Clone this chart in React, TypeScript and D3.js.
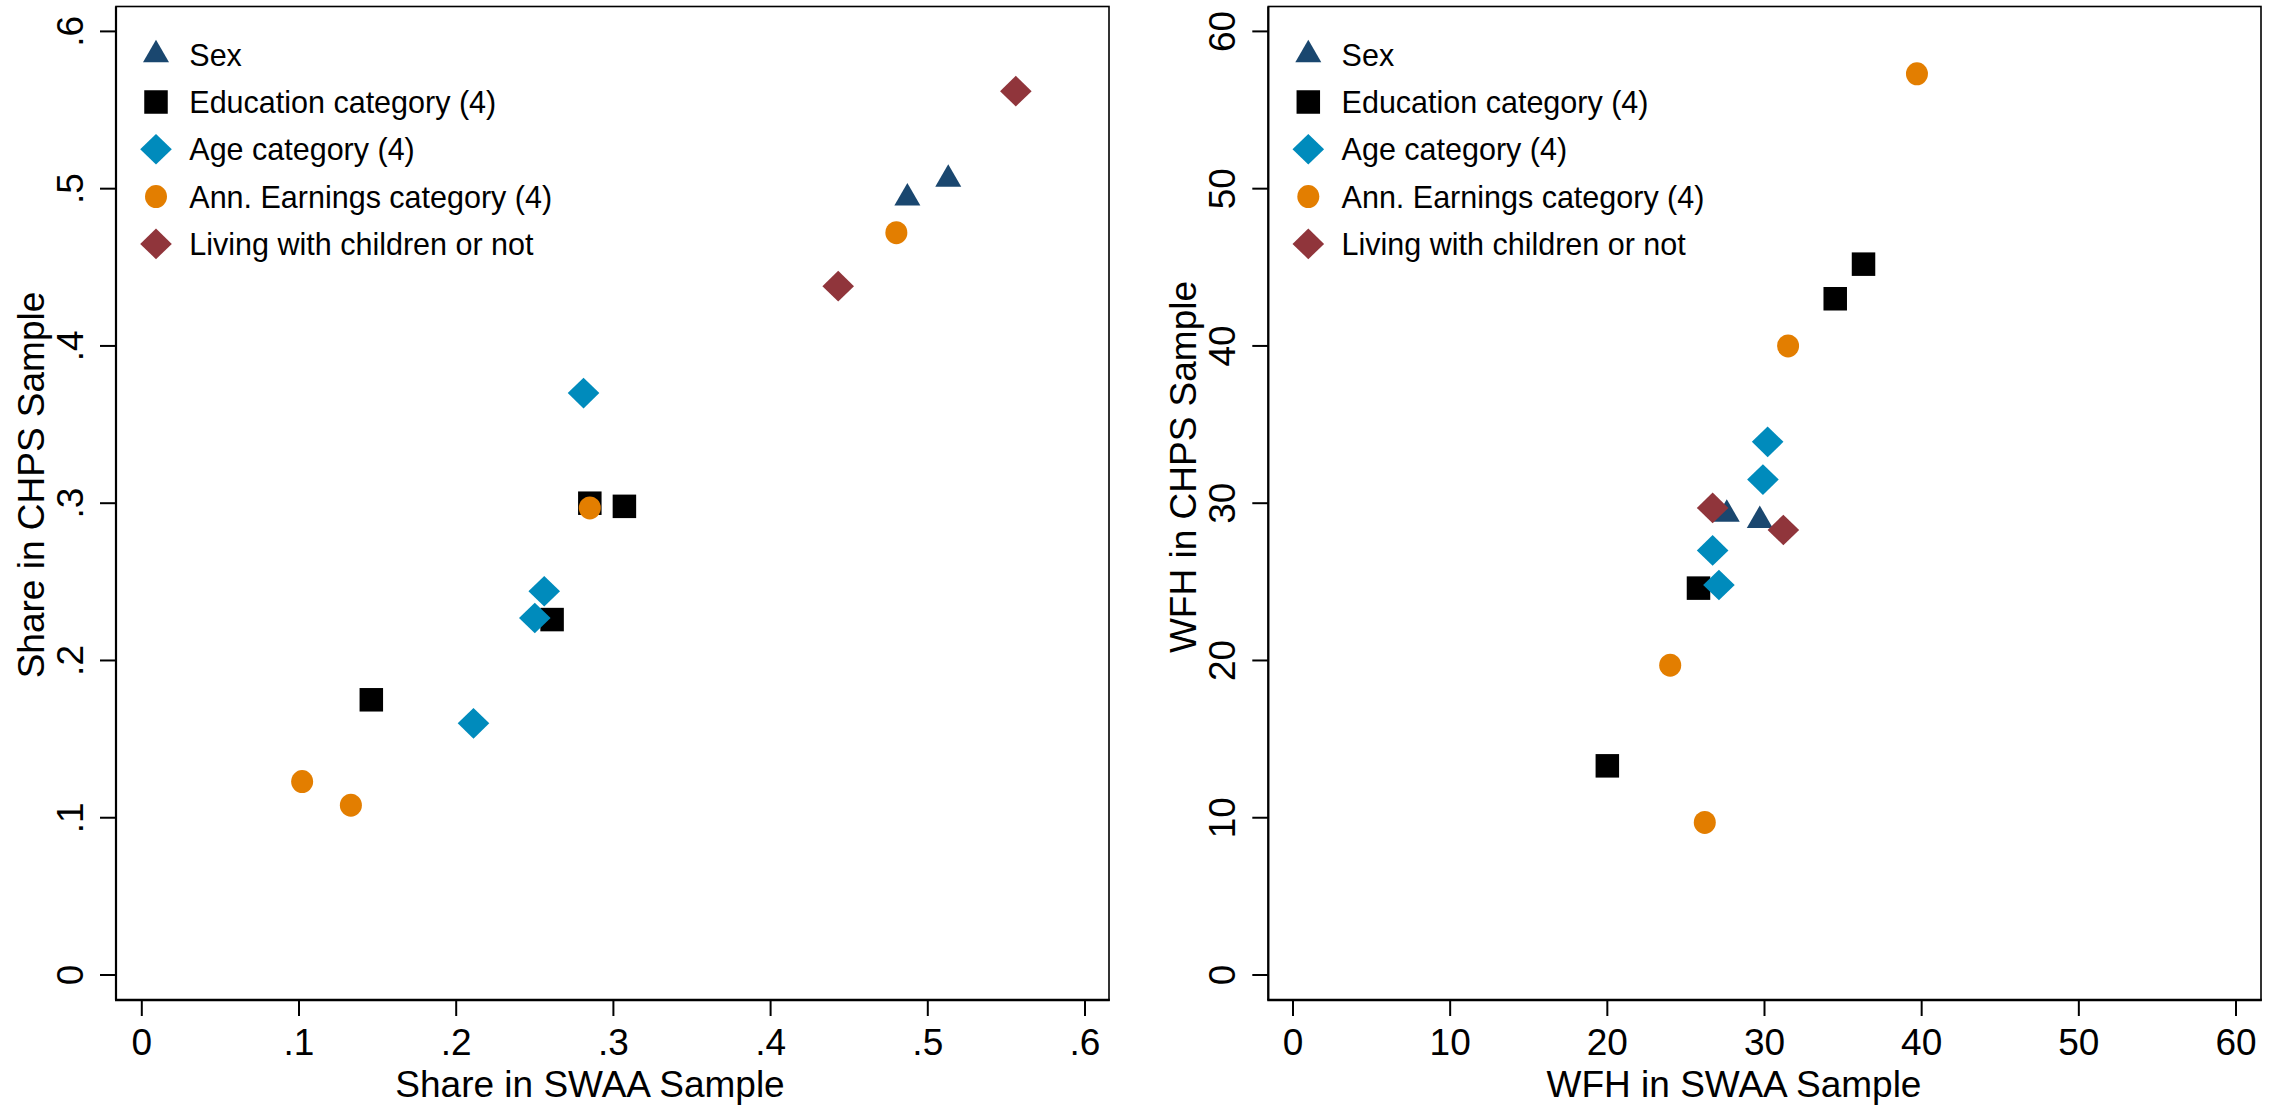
import React from "react";
import * as d3 from "d3";

// Series shared by both panels
const seriesNames = [
  "Sex",
  "Education category (4)",
  "Age category (4)",
  "Ann. Earnings category (4)",
  "Living with children or not",
];
const seriesColors = ["#1a476f", "#000000", "#008bbc", "#e37e00", "#90353b"];
const seriesShapes = ["triangle", "square", "diamond", "circle", "diamond"];

// Left panel: population shares
const sexShareSWAA = [0.487, 0.513];
const sexShareCHPS = [0.494, 0.506];
const eduShareSWAA = [0.146, 0.261, 0.285, 0.307];
const eduShareCHPS = [0.175, 0.226, 0.3, 0.298];
const ageShareSWAA = [0.211, 0.25, 0.256, 0.281];
const ageShareCHPS = [0.16, 0.227, 0.244, 0.37];
const earnShareSWAA = [0.102, 0.133, 0.285, 0.48];
const earnShareCHPS = [0.123, 0.108, 0.297, 0.472];
const kidsShareSWAA = [0.443, 0.556];
const kidsShareCHPS = [0.438, 0.562];

// Right panel: WFH rates
const sexWfhSWAA = [27.6, 29.7];
const sexWfhCHPS = [29.3, 28.9];
const eduWfhSWAA = [20.0, 25.8, 34.5, 36.3];
const eduWfhCHPS = [13.3, 24.6, 43.0, 45.2];
const ageWfhSWAA = [26.7, 27.1, 29.9, 30.2];
const ageWfhCHPS = [27.0, 24.8, 31.5, 33.9];
const earnWfhSWAA = [24.0, 26.2, 31.5, 39.7];
const earnWfhCHPS = [19.7, 9.7, 40.0, 57.3];
const kidsWfhSWAA = [26.7, 31.2];
const kidsWfhCHPS = [29.7, 28.3];

// Axis ticks
const shareTicks = [0, 0.1, 0.2, 0.3, 0.4, 0.5, 0.6];
const shareTickLabels = ["0", ".1", ".2", ".3", ".4", ".5", ".6"];
const wfhTicks = [0, 10, 20, 30, 40, 50, 60];
const wfhTickLabels = ["0", "10", "20", "30", "40", "50", "60"];

const FONT = "'Liberation Sans', Arial, Helvetica, sans-serif";

function Marker({ shape, x, y, color }: { shape: string; x: number; y: number; color: string }) {
  if (shape === "triangle") {
    const s = 13, h = 22.5;
    return (
      <path
        d={`M${x},${y - (2 * h) / 3}L${x - s},${y + h / 3}L${x + s},${y + h / 3}Z`}
        fill={color}
      />
    );
  }
  if (shape === "square") {
    const a = 11.75;
    return <rect x={x - a} y={y - a} width={2 * a} height={2 * a} fill={color} />;
  }
  if (shape === "diamond") {
    const w = 15.8, h = 15.3;
    return <path d={`M${x},${y - h}L${x + w},${y}L${x},${y + h}L${x - w},${y}Z`} fill={color} />;
  }
  return <ellipse cx={x} cy={y} rx={11} ry={11.5} fill={color} />;
}

type PanelProps = {
  frame: { x0: number; x1: number; y0: number; y1: number };
  x: d3.ScaleLinear<number, number>;
  y: d3.ScaleLinear<number, number>;
  ticks: number[];
  tickLabels: string[];
  xTitle: string;
  yTitle: string;
  xTitleCenter: number;
  yTitleCenter: number;
  series: { xs: number[]; ys: number[] }[];
};

function Panel(p: PanelProps) {
  const { frame, x, y } = p;
  const axisW = 2.2;
  return (
    <g fontFamily={FONT}>
      {/* plot region outline */}
      <rect
        x={frame.x0}
        y={frame.y0}
        width={frame.x1 - frame.x0}
        height={frame.y1 - frame.y0}
        fill="none"
        stroke="#000"
        strokeWidth={1.6}
      />
      <line x1={frame.x0} x2={frame.x0} y1={frame.y0} y2={frame.y1} stroke="#000" strokeWidth={axisW} />
      <line x1={frame.x0 - 1} x2={frame.x1 + 0.8} y1={frame.y1} y2={frame.y1} stroke="#000" strokeWidth={axisW + 0.4} />

      {/* y axis ticks and rotated labels */}
      {p.ticks.map((t, i) => (
        <g key={"y" + i}>
          <line x1={frame.x0 - 16} x2={frame.x0} y1={y(t)} y2={y(t)} stroke="#000" strokeWidth={2} />
          <text
            transform={`translate(${frame.x0 - 33},${y(t)}) rotate(-90)`}
            textAnchor="middle"
            fontSize={37}
          >
            {p.tickLabels[i]}
          </text>
        </g>
      ))}

      {/* x axis ticks and labels */}
      {p.ticks.map((t, i) => (
        <g key={"x" + i}>
          <line x1={x(t)} x2={x(t)} y1={frame.y1} y2={frame.y1 + 16} stroke="#000" strokeWidth={2} />
          <text x={x(t)} y={frame.y1 + 55} textAnchor="middle" fontSize={37}>
            {p.tickLabels[i]}
          </text>
        </g>
      ))}

      {/* axis titles */}
      <text x={p.xTitleCenter} y={frame.y1 + 97} textAnchor="middle" fontSize={37}>
        {p.xTitle}
      </text>
      <text
        transform={`translate(${frame.x0 - 72.5},${p.yTitleCenter}) rotate(-90)`}
        textAnchor="middle"
        fontSize={37}
      >
        {p.yTitle}
      </text>

      {/* points, drawn series by series */}
      {p.series.map((s, si) =>
        s.xs.map((v, j) => (
          <Marker
            key={si + "-" + j}
            shape={seriesShapes[si]}
            x={x(v)}
            y={y(s.ys[j])}
            color={seriesColors[si]}
          />
        ))
      )}

      {/* legend */}
      {seriesNames.map((name, i) => {
        const base = 65.7 + i * 47.3;
        return (
          <g key={"lg" + i}>
            <Marker shape={seriesShapes[i]} x={frame.x0 + 40} y={base - 11} color={seriesColors[i]} />
            <text x={frame.x0 + 73.3} y={base} fontSize={30.5}>
              {name}
            </text>
          </g>
        );
      })}
    </g>
  );
}

export default function App() {
  const leftFrame = { x0: 116, x1: 1109, y0: 6.5, y1: 1000 };
  const rightFrame = { x0: 1268.3, x1: 2261, y0: 6.5, y1: 1000 };

  const xShare = d3.scaleLinear().domain([0, 0.6]).range([141.8, 1085]);
  const yShare = d3.scaleLinear().domain([0, 0.6]).range([975, 31.4]);
  const xWfh = d3.scaleLinear().domain([0, 60]).range([1293, 2236]);
  const yWfh = d3.scaleLinear().domain([0, 60]).range([975, 31.4]);

  const shareSeries = [
    { xs: sexShareSWAA, ys: sexShareCHPS },
    { xs: eduShareSWAA, ys: eduShareCHPS },
    { xs: ageShareSWAA, ys: ageShareCHPS },
    { xs: earnShareSWAA, ys: earnShareCHPS },
    { xs: kidsShareSWAA, ys: kidsShareCHPS },
  ];
  const wfhSeries = [
    { xs: sexWfhSWAA, ys: sexWfhCHPS },
    { xs: eduWfhSWAA, ys: eduWfhCHPS },
    { xs: ageWfhSWAA, ys: ageWfhCHPS },
    { xs: earnWfhSWAA, ys: earnWfhCHPS },
    { xs: kidsWfhSWAA, ys: kidsWfhCHPS },
  ];

  return (
    <svg
      width={2278}
      height={1107}
      style={{ position: "absolute", left: 0, top: 0, background: "#fff" }}
    >
      <rect width={2278} height={1107} fill="#fff" />
      <Panel
        frame={leftFrame}
        x={xShare}
        y={yShare}
        ticks={shareTicks}
        tickLabels={shareTickLabels}
        xTitle="Share in SWAA Sample"
        yTitle="Share in CHPS Sample"
        xTitleCenter={590}
        yTitleCenter={485}
        series={shareSeries}
      />
      <Panel
        frame={rightFrame}
        x={xWfh}
        y={yWfh}
        ticks={wfhTicks}
        tickLabels={wfhTickLabels}
        xTitle="WFH in SWAA Sample"
        yTitle="WFH in CHPS Sample"
        xTitleCenter={1734}
        yTitleCenter={467}
        series={wfhSeries}
      />
    </svg>
  );
}
